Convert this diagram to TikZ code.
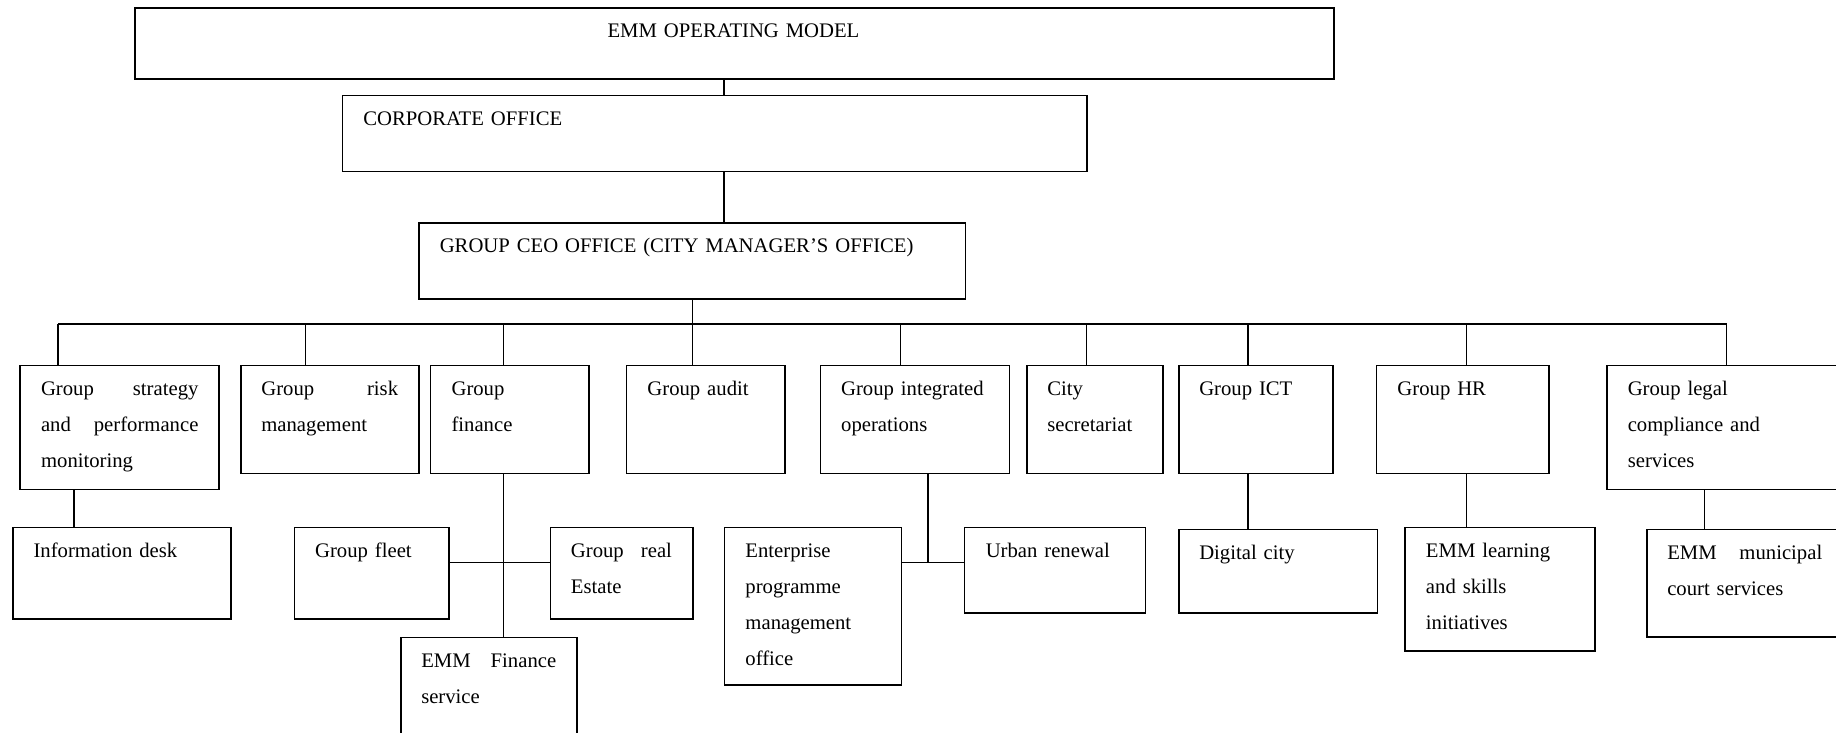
\documentclass[tikz,border=0pt]{standalone}
\usepackage{fontspec}
\setmainfont{Liberation Serif}

\begin{document}
\begin{tikzpicture}[x=0.5pt,y=-0.5pt,line width=0.75pt]

        \useasboundingbox (0,0) rectangle (1836,733);
        \clip (0,0) rectangle (1836,733);

        % boxes
        \begin{scope}[every node/.style={draw,anchor=north west,inner sep=0pt}]
          \node[line width=1pt,minimum width=599.5pt,minimum height=35.35pt] (emm) at (134,7.3) {};
          \node[minimum width=372.4pt,minimum height=38pt] (corp) at (341.5,94.7) {};
          \node[minimum width=273.25pt,minimum height=38.15pt] (ceo) at (418,222) {};

          \node[minimum width=99.5pt,minimum height=62pt] (strat) at (19.3,364.5) {};
          \node[minimum width=89.2pt,minimum height=54pt] (risk) at (240,364.5) {};
          \node[minimum width=79.3pt,minimum height=54pt] (fin) at (429.8,364.5) {};
          \node[minimum width=79.3pt,minimum height=54pt] (audit) at (625.7,364.5) {};
          \node[minimum width=94.35pt,minimum height=54pt] (integ) at (819.8,364.5) {};
          \node[minimum width=68.15pt,minimum height=54pt] (city) at (1026,364.5) {};
          \node[minimum width=77.15pt,minimum height=54pt] (ict) at (1178,364.5) {};
          \node[minimum width=86.15pt,minimum height=54pt] (hr) at (1375.7,364.5) {};
          \node[minimum width=150pt,minimum height=62pt] (legal) at (1606,364.5) {};

          \node[minimum width=109pt,minimum height=45.8pt] (info) at (12,526.7) {};
          \node[minimum width=77.3pt,minimum height=45.8pt] (fleet) at (293.8,526.7) {};
          \node[minimum width=71.25pt,minimum height=45.8pt] (realest) at (549.6,526.7) {};
          \node[minimum width=88pt,minimum height=75pt] (finserv) at (400,636.7) {};
          \node[minimum width=88.35pt,minimum height=78.8pt] (enterp) at (723.8,526.7) {};
          \node[minimum width=90.35pt,minimum height=42.8pt] (urban) at (963.8,526.7) {};
          \node[minimum width=99.25pt,minimum height=41.8pt] (digital) at (1178,528.7) {};
          \node[minimum width=95.15pt,minimum height=61.8pt] (learn) at (1404,526.7) {};
          \node[minimum width=150pt,minimum height=53.8pt] (court) at (1646,528.7) {};
        \end{scope}

        % texts
        \begin{scope}[every node/.style={anchor=base west,inner sep=0pt,align=left,
            text width=85pt,font=\fontsize{10.35pt}{18pt}\selectfont}]
          \node[anchor=base,align=center,text width=200pt] (emm-t) at (733.5,37.8) {EMM OPERATING MODEL};
          \node[text width=200pt] (corp-t) at (362.5,125.2) {CORPORATE OFFICE};
          \node[text width=250pt] (ceo-t) at (439,252.5) {GROUP CEO OFFICE (CITY MANAGER’S OFFICE)};

          \node[text width=78.7pt] (strat-t) at (40.3,395) {Group\hfill strategy\\and\hfill performance\\monitoring};
          \node[text width=68.4pt] (risk-t) at (260.6,395) {Group\hfill risk\\management};
          \node (fin-t) at (450.8,395) {Group\\finance};
          \node (audit-t) at (646.7,395) {Group audit};
          \node (integ-t) at (840.4,395) {Group integrated\\operations};
          \node (city-t) at (1046.5,395) {City\\secretariat};
          \node (ict-t) at (1198.5,395) {Group ICT};
          \node (hr-t) at (1396.7,395) {Group HR};
          \node (legal-t) at (1627,395) {Group legal\\compliance and\\services};

          \node (info-t) at (32.8,557.2) {Information desk};
          \node (fleet-t) at (314.4,557.2) {Group fleet};
          \node[text width=50.5pt] (realest-t) at (570.2,557.2) {Group\hfill real\\Estate};
          \node[text width=67.5pt] (finserv-t) at (420.5,667.2) {EMM\hfill Finance\\service};
          \node (enterp-t) at (744.7,557.2) {Enterprise\\programme\\management\\office};
          \node (urban-t) at (985,557.2) {Urban renewal};
          \node (digital-t) at (1198.5,559.2) {Digital city};
          \node (learn-t) at (1425.2,557.2) {EMM learning\\and skills\\initiatives};
          \node[text width=77.5pt] (court-t) at (1666.5,559.2) {EMM\hfill municipal\\court services};
        \end{scope}

        % connector points
        \coordinate (top) at (724,0);
        \coordinate (bus) at (692.5,324);
        \coordinate (d1) at (58,324);
        \coordinate (d2) at (305.7,324);
        \coordinate (d3) at (503.7,324);
        \coordinate (d4) at (692.5,324);
        \coordinate (d5) at (900.5,324);
        \coordinate (d6) at (1086.3,324);
        \coordinate (d7) at (1248.2,324);
        \coordinate (d8) at (1466.4,324);
        \coordinate (d9) at (1726.5,324);
        \coordinate (s1) at (74,0);
        \coordinate (f1) at (503.7,562.3);
        \coordinate (g1) at (928.2,562.3);
        \coordinate (l1) at (1704.3,0);

        \begin{scope}[every edge/.style={draw}]
          \path (emm.south -| top) edge (corp.north -| top);
          \path (corp.south -| top) edge (ceo.north -| top);
          \path (ceo.south -| bus) edge (bus);
          \path (d1) edge (d9);

          \path (d1) edge (d1 |- strat.north);
          \path (d2) edge (d2 |- risk.north);
          \path (d3) edge (d3 |- fin.north);
          \path (d4) edge (d4 |- audit.north);
          \path (d5) edge (d5 |- integ.north);
          \path (d6) edge (d6 |- city.north);
          \path (d7) edge (d7 |- ict.north);
          \path (d8) edge (d8 |- hr.north);
          \path (d9) edge (d9 |- legal.north);

          \path (strat.south -| s1) edge (info.north -| s1);
          \path (fin.south -| f1) edge (finserv.north -| f1);
          \path (fleet.east |- f1) edge (realest.west |- f1);
          \path (integ.south -| g1) edge (g1);
          \path (enterp.east |- g1) edge (urban.west |- g1);
          \path (ict.south -| d7) edge (digital.north -| d7);
          \path (hr.south -| d8) edge (learn.north -| d8);
          \path (legal.south -| l1) edge (court.north -| l1);
        \end{scope}

      \end{tikzpicture}
\end{document}
